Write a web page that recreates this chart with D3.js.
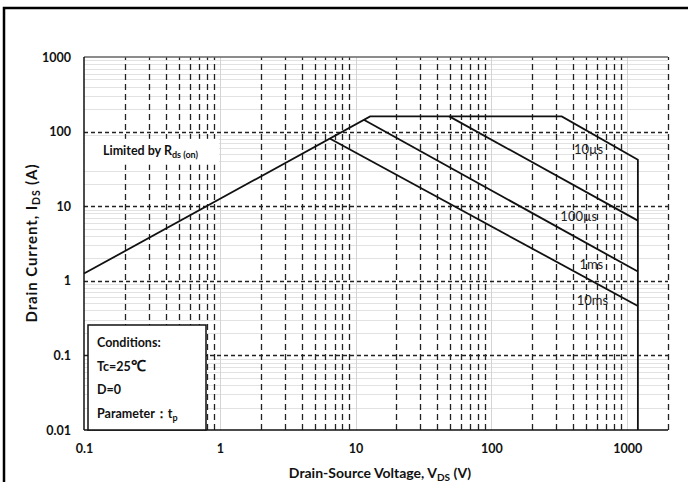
<!DOCTYPE html>
<html>
<head>
<meta charset="utf-8">
<script src="https://cdn.jsdelivr.net/npm/d3@7"></script>
<style>
  body { margin: 0; background: #fff; }
  svg { display: block; }
  text { font-family: Lato, "Open Sans", sans-serif; font-weight: bold; fill: #111; }
</style>
</head>
<body>
<svg id="chart" width="688" height="482"></svg>
<script>
// axis ticks
var xTicks = [0.1, 1, 10, 100, 1000]
var yTicks = [0.01, 0.1, 1, 10, 100, 1000]
var xTickLabels = ['0.1', '1', '10', '100', '1000']
var yTickLabels = ['0.01', '0.1', '1', '10', '100', '1000']

// SOA boundary: Rds(on) line, current limit, 10us power line, voltage limit
var limitLine = [[0.1, 1.25], [12.8, 160], [330, 160], [1200, 42], [1200, 0.01]]
// pulse width lines (start, end)
var line100us = [[49, 160], [1200, 6.4]]
var line1ms = [[11.5, 144], [1200, 1.33]]
var line10ms = [[6.5, 80], [1200, 0.46]]

var pulseLabels = ['10µs', '100µs', '1ms', '10ms']
var pulseLabelAt = [[520, 57], [440, 7.2], [545, 1.68], [555, 0.54]]

var conditions = ['Conditions:', 'Tc=25', 'D=0', 'Parameter：t']

var svg = d3.select('#chart')
var margin = {top: 57, right: 20, bottom: 52, left: 84}
var W = 688, H = 482

var xs = d3.scaleLog().domain([0.1, 2000]).range([margin.left, W - margin.right])
var ys = d3.scaleLog().domain([0.01, 1000]).range([H - margin.bottom, margin.top])

// outer frame
svg.append('rect').attr('x', 4).attr('y', 8).attr('width', 700).attr('height', 500)
    .style('fill', 'none').style('stroke', '#000').style('stroke-width', 2.5)

var grid = svg.append('g')

// minor values for grid
var minorX = [], minorY = []
for (var e = -1; e <= 3; e++) {
    for (var k = 2; k <= 9; k++) {
        var v = k * Math.pow(10, e)
        if (v <= 2000) minorX.push(v)
    }
}
for (var e = -2; e <= 2; e++) {
    for (var k = 2; k <= 9; k++) minorY.push(k * Math.pow(10, e))
}

// horizontal minor: light solid
grid.selectAll('.hmin').data(minorY).enter().append('line')
    .attr('x1', xs(0.1)).attr('x2', xs(2000))
    .attr('y1', d => Math.round(ys(d)) + 0.5).attr('y2', d => Math.round(ys(d)) + 0.5)
    .style('stroke', '#e2e2e2').style('stroke-width', 1)

// vertical major: light solid
grid.selectAll('.vmaj').data(xTicks.slice(1)).enter().append('line')
    .attr('y1', ys(0.01)).attr('y2', ys(1000))
    .attr('x1', d => Math.round(xs(d)) + 0.5).attr('x2', d => Math.round(xs(d)) + 0.5)
    .style('stroke', '#d4d4d4').style('stroke-width', 1)

// vertical minor: dark dashed
grid.selectAll('.vmin').data(minorX).enter().append('line')
    .attr('y1', ys(0.01)).attr('y2', ys(1000))
    .attr('x1', d => Math.round(xs(d)) + 0.5).attr('x2', d => Math.round(xs(d)) + 0.5)
    .style('stroke', '#222').style('stroke-width', 1.3).style('stroke-dasharray', '6,4')

// horizontal major: dark dashed
grid.selectAll('.hmaj').data(yTicks.slice(1, -1)).enter().append('line')
    .attr('x1', xs(0.1)).attr('x2', xs(2000))
    .attr('y1', d => Math.round(ys(d)) + 0.5).attr('y2', d => Math.round(ys(d)) + 0.5)
    .style('stroke', '#222').style('stroke-width', 1.3).style('stroke-dasharray', '4,3')

// white patch behind the Rds(on) note
svg.append('rect').attr('x', xs(0.1) + 1).attr('y', ys(80)).attr('width', xs(1) - xs(0.1) - 2).attr('height', ys(36) - ys(80))
    .style('fill', '#fff')

// plot frame: top gray, left and bottom black
svg.append('line').attr('x1', xs(0.1)).attr('x2', xs(2000)).attr('y1', ys(1000)).attr('y2', ys(1000))
    .style('stroke', '#666').style('stroke-width', 1.5)
svg.append('line').attr('x1', xs(0.1)).attr('x2', xs(0.1)).attr('y1', ys(1000)).attr('y2', ys(0.01))
    .style('stroke', '#111').style('stroke-width', 1.5)
svg.append('line').attr('x1', xs(0.1)).attr('x2', xs(2000)).attr('y1', ys(0.01)).attr('y2', ys(0.01))
    .style('stroke', '#111').style('stroke-width', 1.5)

// axes (labels only)
var xAxis = d3.axisBottom(xs).tickValues(xTicks).tickFormat((d, i) => xTickLabels[i]).tickSize(0).tickPadding(14)
var yAxis = d3.axisLeft(ys).tickValues(yTicks).tickFormat((d, i) => yTickLabels[i]).tickSize(0).tickPadding(13)

var gx = svg.append('g').attr('transform', `translate(0,${ys(0.01)})`).call(xAxis)
var gy = svg.append('g').attr('transform', `translate(${xs(0.1)},0)`).call(yAxis)
svg.selectAll('.domain').remove()
svg.selectAll('.tick text').style('font-size', '12.5px').style('font-family', null).style('fill', '#111')

// curves
var lineFn = d3.line().x(d => xs(d[0])).y(d => ys(d[1]))
var curves = [limitLine, line100us, line1ms, line10ms]
svg.selectAll('.soa').data(curves).enter().append('path')
    .attr('d', d => lineFn(d))
    .style('fill', 'none').style('stroke', '#111').style('stroke-width', 1.8)

// pulse labels
svg.selectAll('.plabel').data(pulseLabels).enter().append('text')
    .attr('x', (d, i) => xs(pulseLabelAt[i][0]))
    .attr('y', (d, i) => ys(pulseLabelAt[i][1]))
    .attr('dy', '0.35em')
    .attr('text-anchor', 'middle')
    .style('font-size', '13px').style('font-weight', 'normal').style('fill', '#222')
    .text(d => d)

// Rds(on) label
var rds = svg.append('text').attr('x', xs(0.138)).attr('y', ys(55)).attr('dy', '0.35em')
    .style('font-size', '12.5px')
rds.append('tspan').text('Limited by R')
rds.append('tspan').attr('dy', '3').style('font-size', '9px').text('ds (on)')

// conditions box
var bx = xs(0.1) + 4, by = 325
var box = svg.append('g')
box.append('rect').attr('x', bx).attr('y', by).attr('width', 118).attr('height', ys(0.01) - by)
    .style('fill', '#fff').style('stroke', '#111').style('stroke-width', 1.5)
var condText = box.selectAll('.cond').data(conditions).enter().append('text')
    .attr('x', bx + 9).attr('y', (d, i) => by + 22 + i * 23.5)
    .style('font-size', '12.5px')
    .text(d => d)
condText.filter((d, i) => i == 1)
    .append('tspan').style('font-size', '15px').text('℃')
condText.filter((d, i) => i == 3)
    .append('tspan').attr('dy', '3').style('font-size', '9px').text('p')

// axis titles
var xt = svg.append('text').attr('x', 380).attr('y', 478).attr('text-anchor', 'middle')
    .style('font-size', '14px')
xt.append('tspan').text('Drain-Source Voltage, V')
xt.append('tspan').attr('dy', '3').style('font-size', '10px').text('DS')
xt.append('tspan').attr('dy', '-3').text(' (V)')

var yt = svg.append('text').attr('transform', 'translate(37,243) rotate(-90)').attr('text-anchor', 'middle')
    .style('font-size', '15px').style('letter-spacing', '0.9px')
yt.append('tspan').text('Drain Current, I')
yt.append('tspan').attr('dy', '3').style('font-size', '10.5px').text('DS')
yt.append('tspan').attr('dy', '-3').text(' (A)')
</script>
</body>
</html>
